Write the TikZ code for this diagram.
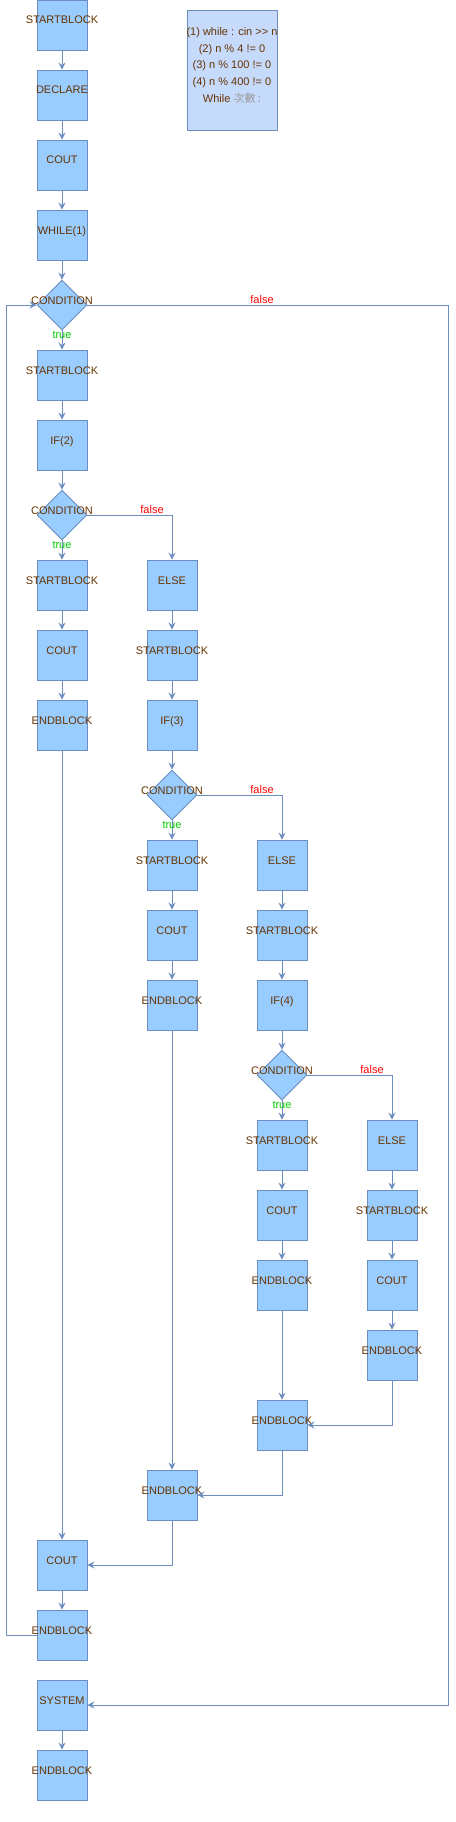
\documentclass[tikz,border=0pt]{standalone}
\usepackage{fontspec}
\setmainfont{Liberation Sans}
\newfontfamily\cjk{Noto Sans CJK TC}
\usetikzlibrary{shapes.geometric,arrows.meta,calc}
\definecolor{boxfill}{HTML}{99CCFF}
\definecolor{stroke}{HTML}{6C8EBF}
\definecolor{txt}{HTML}{663300}
\definecolor{notefill}{HTML}{C6DAFC}
\definecolor{fred}{HTML}{FF0000}
\definecolor{tgreen}{HTML}{00CC00}
\definecolor{cjkgray}{HTML}{999999}
\newcommand{\bx}[1]{\makebox[0pt]{#1}}
\tikzset{
  base/.style={draw=stroke, fill=boxfill, line width=0.9pt, inner sep=0pt, text=txt,
    font=\fontsize{11}{13}\selectfont, text height=8pt, text depth=10pt},
  blk/.style={base, rectangle, minimum width=50pt, minimum height=50pt},
  cond/.style={base, diamond, aspect=1, minimum width=50pt, minimum height=50pt},
  arr/.style={draw=stroke, line width=0.9pt, -{Stealth[length=7pt,width=7pt,inset=2.5pt]}},
  flab/.style={text=fred, font=\fontsize{11}{13}\selectfont, inner sep=0pt},
  tlab/.style={text=tgreen, font=\fontsize{11}{13}\selectfont, inner sep=0pt},
  nline/.style={text=txt, font=\fontsize{11}{13}\selectfont, inner sep=0pt, anchor=base},
}
\begin{document}
\begin{tikzpicture}[x=1pt, y=-1pt]
\useasboundingbox (0,0) rectangle (455,1822);
% column 1
\node[blk] (a0) at (62,25) {\bx{STARTBLOCK}};
\node[blk] (a1) at (62,95) {\bx{DECLARE}};
\node[blk] (a2) at (62,165) {\bx{COUT}};
\node[blk] (a3) at (62,235) {\bx{WHILE(1)}};
\node[cond] (c1) at (62,305) {\bx{CONDITION}};
\node[blk] (a5) at (62,375) {\bx{STARTBLOCK}};
\node[blk] (a6) at (62,445) {\bx{IF(2)}};
\node[cond] (c2) at (62,515) {\bx{CONDITION}};
\node[blk] (a8) at (62,585) {\bx{STARTBLOCK}};
\node[blk] (a9) at (62,655) {\bx{COUT}};
\node[blk] (a10) at (62,725) {\bx{ENDBLOCK}};
\node[blk] (a22) at (62,1565) {\bx{COUT}};
\node[blk] (a23) at (62,1635) {\bx{ENDBLOCK}};
\node[blk] (a24) at (62,1705) {\bx{SYSTEM}};
\node[blk] (a25) at (62,1775) {\bx{ENDBLOCK}};
% column 2
\node[blk] (b8) at (172,585) {\bx{ELSE}};
\node[blk] (b9) at (172,655) {\bx{STARTBLOCK}};
\node[blk] (b10) at (172,725) {\bx{IF(3)}};
\node[cond] (c3) at (172,795) {\bx{CONDITION}};
\node[blk] (b12) at (172,865) {\bx{STARTBLOCK}};
\node[blk] (b13) at (172,935) {\bx{COUT}};
\node[blk] (b14) at (172,1005) {\bx{ENDBLOCK}};
\node[blk] (b21) at (172,1495) {\bx{ENDBLOCK}};
% column 3
\node[blk] (d12) at (282,865) {\bx{ELSE}};
\node[blk] (d13) at (282,935) {\bx{STARTBLOCK}};
\node[blk] (d14) at (282,1005) {\bx{IF(4)}};
\node[cond] (c4) at (282,1075) {\bx{CONDITION}};
\node[blk] (d16) at (282,1145) {\bx{STARTBLOCK}};
\node[blk] (d17) at (282,1215) {\bx{COUT}};
\node[blk] (d18) at (282,1285) {\bx{ENDBLOCK}};
\node[blk] (d20) at (282,1425) {\bx{ENDBLOCK}};
% column 4
\node[blk] (e16) at (392,1145) {\bx{ELSE}};
\node[blk] (e17) at (392,1215) {\bx{STARTBLOCK}};
\node[blk] (e18) at (392,1285) {\bx{COUT}};
\node[blk] (e19) at (392,1355) {\bx{ENDBLOCK}};
% note
\node[draw=stroke, fill=notefill, line width=0.9pt, minimum width=90pt, minimum height=120pt, inner sep=0pt] (note) at (232,70) {};
\node[nline] (n1) at (232,35.7) {(1) while : cin >{}> n};
\node[nline] (n2) at (232,52.3) {(2) n \% 4 != 0};
\node[nline] (n3) at (232,69) {(3) n \% 100 != 0};
\node[nline] (n4) at (232,85.7) {(4) n \% 400 != 0};
\node[nline] (n5) at (232,102.3) {While {\color{cjkgray}\cjk 次數 :}};
% straight arrows
\foreach \u/\v in {a0/a1,a1/a2,a2/a3,a3/c1,a5/a6,a6/c2,a9/a10,a8/a9,a22/a23,a24/a25,
  b8/b9,b9/b10,b10/c3,b12/b13,b13/b14,d12/d13,d13/d14,d14/c4,d16/d17,d17/d18,
  e16/e17,e17/e18,e18/e19,a10/a22,b14/b21,d18/d20}
  \draw[arr] (\u.south) -- (\v.north);
% true branches
\foreach \u/\v in {c1/a5,c2/a8,c3/b12,c4/d16}{
  \draw[arr] (\u.south) -- (\v.north);
  \node[tlab] at ($(\u.south)+(0,5)$) {true};
}
% false branches
\coordinate (r1) at (448,305);
\draw[arr] (c1.east) -- (r1) |- (a24.east);
\node[flab] at (262,300) {false};
\draw[arr] (c2.east) -| (b8.north);
\node[flab] at (152,510) {false};
\draw[arr] (c3.east) -| (d12.north);
\node[flab] at (262,790) {false};
\draw[arr] (c4.east) -| (e16.north);
\node[flab] at (372,1070) {false};
% merges
\draw[arr] (e19.south) |- (d20.east);
\draw[arr] (d20.south) |- (b21.east);
\draw[arr] (b21.south) |- (a22.east);
% loop back
\coordinate (l1) at (6,1635);
\draw[arr] (a23.west) -- (l1) |- (c1.west);
\end{tikzpicture}
\end{document}
